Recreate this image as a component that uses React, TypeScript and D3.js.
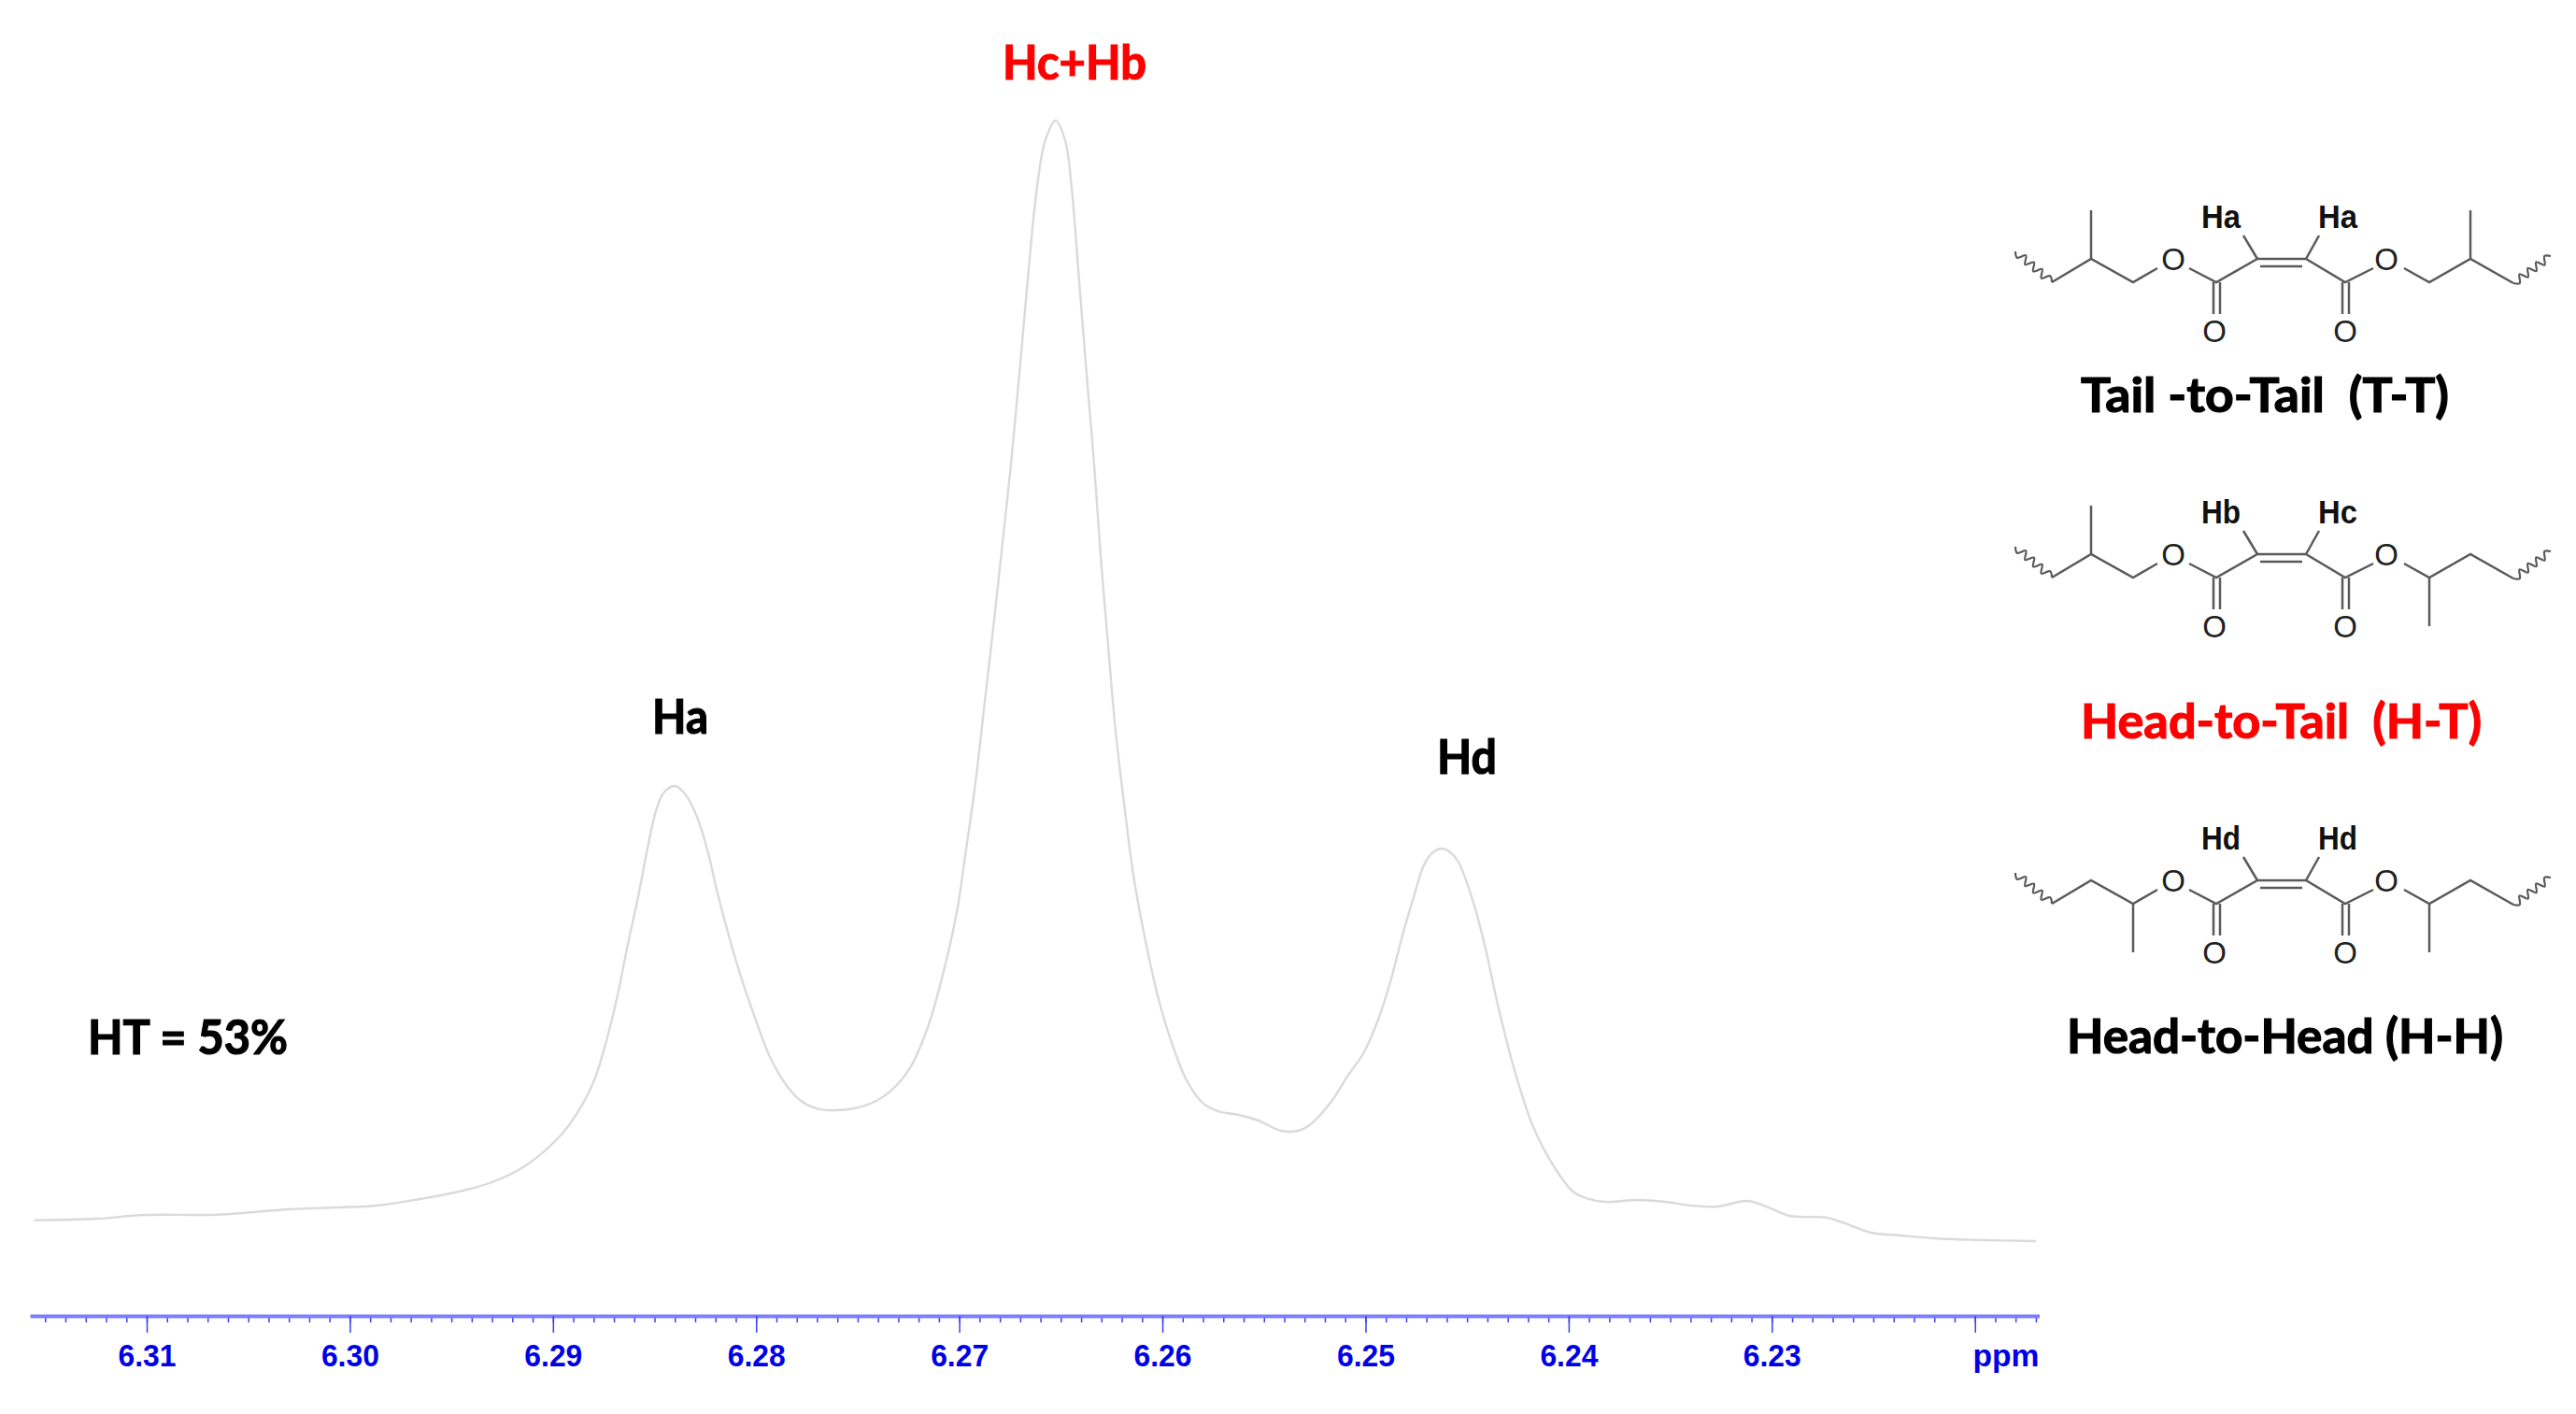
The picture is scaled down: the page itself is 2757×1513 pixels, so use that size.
// App.tsx
import React, { useRef, useEffect } from 'react';
import * as d3 from 'd3';

const WIDTH = 2757;
const HEIGHT = 1513;

// spectrum trace (ppm, relative intensity)
const ppmValues = [
    6.31555, 6.31239, 6.31014, 6.30657, 6.303, 6.30075, 6.29867, 6.29656, 6.29462, 6.29301,
    6.2914, 6.28976, 6.28884, 6.28799, 6.28745, 6.28684, 6.28634, 6.28581, 6.28534, 6.28492,
    6.28454, 6.28399, 6.28348, 6.28293, 6.28239, 6.28193, 6.28132, 6.28072, 6.28009, 6.27934,
    6.27855, 6.27779, 6.27703, 6.27634, 6.27519, 6.27409, 6.27335, 6.27243, 6.27156, 6.27087,
    6.27013, 6.26967, 6.26921, 6.26875, 6.26829, 6.26783, 6.26743, 6.26704, 6.26663, 6.26617,
    6.26576, 6.26526, 6.26479, 6.26447, 6.2641, 6.26373, 6.26336, 6.26304, 6.26267, 6.2623,
    6.26189, 6.26143, 6.26083, 6.26014, 6.25931, 6.25876, 6.25802, 6.25724, 6.25625, 6.25528,
    6.25415, 6.25334, 6.2527, 6.25173, 6.25084, 6.2501, 6.24936, 6.24877, 6.24817, 6.24759,
    6.24715, 6.24674, 6.24623, 6.24577, 6.24541, 6.24467, 6.24407, 6.24347, 6.2426, 6.24172,
    6.24076, 6.23979, 6.23914, 6.23818, 6.23656, 6.23525, 6.23396, 6.23267, 6.23122, 6.23026,
    6.22912, 6.22736, 6.22653, 6.2251, 6.22363, 6.22202, 6.22008, 6.217,
];
const intensityValues = [
    2.86, 3.0, 3.33, 3.36, 3.83, 4.0, 4.17, 4.75, 5.42, 6.25,
    7.67, 10.17, 12.33, 15.25, 18.33, 22.75, 27.25, 31.67, 36.08, 39.42,
    41.0, 41.58, 40.83, 38.92, 35.83, 32.25, 28.08, 24.42, 21.08, 17.5,
    15.0, 13.5, 12.83, 12.67, 12.83, 13.5, 14.42, 16.42, 20.0, 24.33,
    30.25, 35.83, 41.75, 49.0, 56.25, 63.92, 70.67, 78.33, 86.67, 95.0,
    99.17, 100.92, 99.17, 95.0, 86.67, 78.33, 70.25, 62.17, 54.08, 46.42,
    40.08, 33.67, 27.75, 22.25, 17.5, 15.17, 13.33, 12.58, 12.25, 11.75,
    10.83, 10.83, 11.42, 13.33, 15.83, 17.75, 20.83, 24.17, 28.33, 31.92,
    34.42, 35.58, 36.0, 35.58, 34.75, 31.08, 26.92, 21.92, 15.83, 11.08,
    7.75, 5.42, 4.83, 4.5, 4.67, 4.5, 4.17, 4.08, 4.58, 4.08,
    3.25, 3.11, 2.67, 1.75, 1.5, 1.25, 1.11, 1.0,
];

const majorTicks = [6.31, 6.3, 6.29, 6.28, 6.27, 6.26, 6.25, 6.24, 6.23, 6.22];
const labelledTicks = [6.31, 6.3, 6.29, 6.28, 6.27, 6.26, 6.25, 6.24, 6.23];
const minorTicks = d3.range(6217, 6316).map((v) => v / 1000);

const BLUE = '#0000e6';
const LATO = 'Lato, Carlito, sans-serif';
const ARIAL = '"Liberation Sans", Arial, sans-serif';

// [text, left, right, baseline, colour]
const chartLabels: [string, number, number, number, string][] = [
    ['Hc+Hb', 1073, 1227, 85, '#ff0000'],
    ['Ha', 698, 758, 785, '#000000'],
    ['Hd', 1538, 1602, 828, '#000000'],
    ['HT = 53%', 94, 308, 1128, '#000000'],
    ['Tail -to-Tail  (T-T)', 2227, 2621, 441, '#000000'],
    ['Head-to-Tail  (H-T)', 2227, 2656, 790, '#ff0000'],
    ['Head-to-Head (H-H)', 2212, 2679, 1127, '#000000'],
];

// structures: centre line y of the double bond, H labels, which side holds the methyl
const structures = [
    { yc: 277, hLeft: 'Ha', hRight: 'Ha', left: 'tail', right: 'tail' },
    { yc: 593, hLeft: 'Hb', hRight: 'Hc', left: 'tail', right: 'head' },
    { yc: 942, hLeft: 'Hd', hRight: 'Hd', left: 'head', right: 'head' },
];

const drawStructure = (
    svg: d3.Selection<SVGSVGElement, unknown, null, undefined>,
    s: (typeof structures)[number],
) => {
    const g = svg.append('g').attr('transform', `translate(2130,${s.yc})`);
    const line = d3.line();
    const bond = (pts: [number, number][]) =>
        g.append('path')
            .attr('d', line(pts))
            .attr('fill', 'none')
            .attr('stroke', '#5a5a5a')
            .attr('stroke-width', 2.5);

    // backbone
    bond([[213, 10], [242, 25], [286, 0], [338, 0], [380, 25], [410, 10]]);
    bond([[289, 8], [334, 8]]);
    bond([[239, 25], [239, 59]]);
    bond([[246, 25], [246, 59]]);
    bond([[377, 25], [377, 59]]);
    bond([[384, 25], [384, 59]]);
    bond([[286, 0], [271, -25]]);
    bond([[338, 0], [352, -25]]);
    // alkyl ends
    bond([[66, 25], [108, 0], [153, 25], [179, 10]]);
    bond([[443, 10], [470, 25], [514, 0], [560, 26]]);
    if (s.left === 'tail') bond([[108, 0], [108, -52]]);
    else bond([[153, 25], [153, 77]]);
    if (s.right === 'tail') bond([[514, 0], [514, -52]]);
    else bond([[470, 25], [470, 77]]);

    // wavy bond ends
    const wave = (x0: number, y0: number, x1: number, y1: number) => {
        const n = 9;
        const len = Math.hypot(x1 - x0, y1 - y0);
        const pts = d3.range(n + 1).map((i): [number, number] => {
            const t = i / n;
            const off = i === 0 || i === n ? 0 : i % 2 ? 4 : -4;
            return [
                x0 + (x1 - x0) * t - ((y1 - y0) / len) * off,
                y0 + (y1 - y0) * t + ((x1 - x0) / len) * off,
            ];
        });
        g.append('path')
            .attr('d', d3.line().curve(d3.curveCatmullRom)(pts))
            .attr('fill', 'none')
            .attr('stroke', '#5a5a5a')
            .attr('stroke-width', 2.2);
    };
    wave(27, -8, 66, 25);
    wave(560, 26, 600, -3);

    // atoms
    const atoms: [number, number][] = [[196, 12], [424, 12], [240, 89], [380, 89]];
    atoms.forEach(([x, y]) => {
        g.append('text')
            .attr('x', x)
            .attr('y', y)
            .attr('text-anchor', 'middle')
            .attr('font-family', ARIAL)
            .attr('font-size', 33)
            .attr('fill', '#222222')
            .text('O');
    });
    [[226, s.hLeft], [351, s.hRight]].forEach(([x, t]) => {
        g.append('text')
            .attr('x', x as number)
            .attr('y', -33)
            .attr('font-family', ARIAL)
            .attr('font-weight', 700)
            .attr('font-size', 35)
            .attr('textLength', 42)
            .attr('lengthAdjust', 'spacingAndGlyphs')
            .attr('fill', '#111111')
            .text(t as string);
    });
};

const App: React.FC = () => {
    const svgRef = useRef<SVGSVGElement | null>(null);

    useEffect(() => {
        if (!svgRef.current) return;
        const svg = d3.select(svgRef.current);
        svg.selectAll('*').remove();

        const x = d3.scaleLinear().domain([6.31, 6.22]).range([157, 2113.7]);
        const y = d3.scaleLinear().domain([0, 100]).range([1340, 140]);
        const axisY = 1408;
        const axisRange = [32, 2182.5];
        const axisX = x.copy().domain([x.invert(axisRange[0]), x.invert(axisRange[1])]).range(axisRange);

        // trace
        const trace = d3
            .line<number>()
            .x((d) => x(d))
            .y((_, i) => y(intensityValues[i]))
            .curve(d3.curveCatmullRom.alpha(0.5));
        svg.append('path')
            .datum(ppmValues)
            .attr('d', trace)
            .attr('fill', 'none')
            .attr('stroke', '#dadada')
            .attr('stroke-width', 2.4);

        // minor ticks
        const minor = svg
            .append('g')
            .attr('transform', `translate(0,${axisY})`)
            .call(d3.axisBottom(axisX).tickValues(minorTicks).tickSize(7).tickSizeOuter(0).tickFormat(() => ''));
        minor.select('.domain').remove();
        minor.selectAll('.tick line').attr('stroke', '#3c3cf5').attr('stroke-width', 1.5);

        // major ticks with labels
        const major = svg
            .append('g')
            .attr('transform', `translate(0,${axisY})`)
            .call(
                d3
                    .axisBottom(axisX)
                    .tickValues(majorTicks)
                    .tickSize(18)
                    .tickSizeOuter(0)
                    .tickFormat((d) => (labelledTicks.includes(d as number) ? d3.format('.2f')(d as number) : '')),
            );
        major.select('.domain').attr('stroke', '#7d7dff').attr('stroke-width', 4);
        major.selectAll('.tick line').attr('stroke', '#3c3cf5').attr('stroke-width', 1.5);
        major
            .selectAll('.tick text')
            .attr('y', 54)
            .attr('dy', 0)
            .attr('font-family', ARIAL)
            .attr('font-weight', 700)
            .attr('font-size', 34)
            .attr('fill', BLUE)
            .attr('textLength', 62)
            .attr('lengthAdjust', 'spacingAndGlyphs');
        svg.append('text')
            .attr('x', 2111.5)
            .attr('y', axisY + 54)
            .attr('font-family', ARIAL)
            .attr('font-weight', 700)
            .attr('font-size', 34)
            .attr('fill', BLUE)
            .attr('textLength', 71)
            .attr('lengthAdjust', 'spacingAndGlyphs')
            .text('ppm');

        // peak labels and structure captions
        chartLabels.forEach(([t, left, right, base, colour]) => {
            svg.append('text')
                .attr('x', left)
                .attr('y', base)
                .attr('font-family', LATO)
                .attr('font-weight', 700)
                .attr('font-size', 51)
                .attr('fill', colour)
                .attr('stroke', colour)
                .attr('stroke-width', 1.2)
                .attr('textLength', right - left)
                .attr('lengthAdjust', 'spacingAndGlyphs')
                .style('white-space', 'pre')
                .text(t);
        });

        structures.forEach((s) => drawStructure(svg, s));
    }, []);

    return (
        <svg
            ref={svgRef}
            width={WIDTH}
            height={HEIGHT}
            viewBox={`0 0 ${WIDTH} ${HEIGHT}`}
            style={{ position: 'absolute', left: 0, top: 0, display: 'block', background: '#ffffff' }}
        />
    );
};

export default App;
